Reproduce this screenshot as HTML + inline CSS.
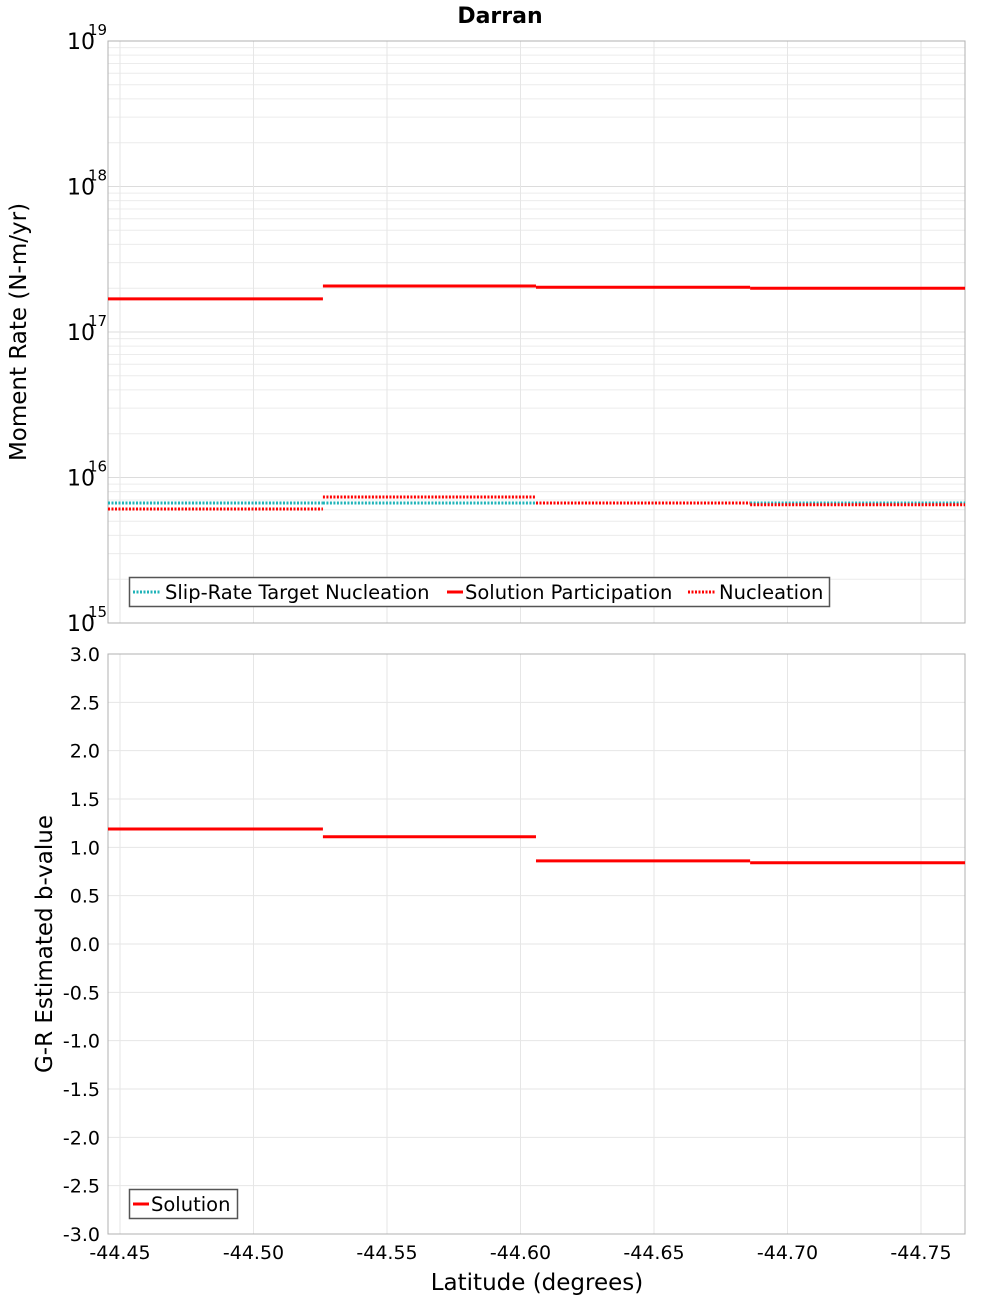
<!DOCTYPE html>
<html><head><meta charset="utf-8"><style>
body{margin:0;background:#fff;}
svg{display:block;font-family:"DejaVu Sans","Liberation Sans",sans-serif;}
</style></head><body>
<svg id="c" width="1000" height="1300" xmlns="http://www.w3.org/2000/svg"></svg>
<script>
const segBounds = [-44.4455, -44.5260, -44.6058, -44.6860, -44.7665];
const participation = [1.69e17, 2.07e17, 2.03e17, 2.0e17];
const targetNucleation = [6.68e15, 6.68e15, 6.68e15, 6.68e15];
const nucleation = [6.08e15, 7.35e15, 6.68e15, 6.5e15];
const bValues = [1.19, 1.11, 0.86, 0.84];
const xTicks = [-44.45, -44.50, -44.55, -44.60, -44.65, -44.70, -44.75];
const bTicks = [3.0,2.5,2.0,1.5,1.0,0.5,0.0,-0.5,-1.0,-1.5,-2.0,-2.5,-3.0];
const logTicks = [15,16,17,18,19];

const svg = document.getElementById('c');
const NS = 'http://www.w3.org/2000/svg';
const L=108, R=965, T1=41, B1=623, T2=654, B2=1234;
function X(v){ return 120 + (-44.45 - v) * 2670; }
function YL(v){ return T1 + (19 - Math.log10(v)) * (B1-T1)/4; }
function YB(v){ return T2 + (3 - v) * (B2-T2)/6; }
function mk(tag, attrs, parent){ const e=document.createElementNS(NS,tag); for(const k in attrs) e.setAttribute(k,attrs[k]); (parent||svg).appendChild(e); return e; }

const p1 = mk('rect',{x:L,y:T1,width:R-L,height:B1-T1,fill:'#fff',stroke:'#b0b0b0'});


const p2 = mk('rect',{x:L,y:T2,width:R-L,height:B2-T2,fill:'#fff',stroke:'#b0b0b0'});



for(let d=15; d<19; d++){ for(let m=1;m<10;m++){ const y=YL(m*Math.pow(10,d)); const g=mk('line',{x1:L,x2:R,y1:y,y2:y,stroke:m==1?'#dcdcdc':'#ececec','stroke-width':1});   } }
bTicks.forEach(v=>{ const y=YB(v); const g=mk('line',{x1:L,x2:R,y1:y,y2:y,stroke:'#e6e6e6'});   });
xTicks.forEach(v=>{ const x=X(v); [[T1,B1],[T2,B2]].forEach(([a,b])=>{ const g=mk('line',{x1:x,x2:x,y1:a,y2:b,stroke:'#e6e6e6'});   }); });

mk('rect',{x:L,y:T1,width:R-L,height:B1-T1,fill:'none',stroke:'#b0b0b0'});
mk('rect',{x:L,y:T2,width:R-L,height:B2-T2,fill:'none',stroke:'#b0b0b0'});

logTicks.forEach(d=>{
  const t=mk('text',{x:95,y:YL(Math.pow(10,d))+8,'text-anchor':'end','font-size':22,fill:'#000'});
  t.textContent='10';
  
  
  const s=mk('text',{x:88,y:YL(Math.pow(10,d))-6,'font-size':15,fill:'#000'});
  s.textContent=String(d);
  
  
});
bTicks.forEach(v=>{
  const t=mk('text',{x:100,y:YB(v)+7,'text-anchor':'end','font-size':19,fill:'#000'});
  t.textContent=v.toFixed(1);
  
  
});
xTicks.forEach(v=>{
  const t=mk('text',{x:X(v),y:1259,'text-anchor':'middle','font-size':19,fill:'#000'});
  t.textContent=v.toFixed(2);
  
  
});

function steps(vals, yf, color, dash, name){
  vals.forEach((v,i)=>{
    const y=yf(v);
    const a={x1:X(segBounds[i]),x2:X(segBounds[i+1]),y1:y,y2:y,stroke:color,'stroke-width':3};
    if(dash) a['stroke-dasharray']='2,1.5';
    const l=mk('line',a);
    
    
  });
}
steps(targetNucleation, YL, '#1fb3b8', true, 'target-nucleation-segment');
steps(participation, YL, '#ff0000', false, 'participation-segment');
steps(nucleation, YL, '#ff0000', true, 'nucleation-segment');
steps(bValues, YB, '#ff0000', false, 'b-value-segment');

const title=mk('text',{x:500,y:23,'text-anchor':'middle','font-size':22,'font-weight':'bold'});
title.textContent='Darran';


const yt1=mk('text',{x:0,y:0,'text-anchor':'middle','font-size':23,transform:'translate(26,332) rotate(-90)'});
yt1.textContent='Moment Rate (N-m/yr)';


const yt2=mk('text',{x:0,y:0,'text-anchor':'middle','font-size':23,transform:'translate(52,944) rotate(-90)'});
yt2.textContent='G-R Estimated b-value';


const xt=mk('text',{x:537,y:1290,'text-anchor':'middle','font-size':23});
xt.textContent='Latitude (degrees)';



const lg1=mk('g',{});


mk('rect',{x:129.5,y:577.5,width:700,height:29,fill:'#fff',stroke:'#555','stroke-width':1.5},lg1);
[[133,'#1fb3b8',true,'Slip-Rate Target Nucleation',165],[447,'#ff0000',false,'Solution Participation',465],[688,'#ff0000',true,'Nucleation',719]].forEach(([x,c,d,txt,tx])=>{
  const a={x1:x,x2:x+28,y1:592,y2:592,stroke:c,'stroke-width':3}; if(d)a['stroke-dasharray']='2,1.5';
  if(!d){a.x2=x+16;}
  mk('line',a,lg1);
  const t=mk('text',{x:tx,y:599,'font-size':19.5},lg1);
  t.textContent=txt;
  
  
});
const lg2=mk('g',{});


mk('rect',{x:129.5,y:1189.5,width:108,height:29,fill:'#fff',stroke:'#555','stroke-width':1.5},lg2);
mk('line',{x1:133,x2:149,y1:1204,y2:1204,stroke:'#ff0000','stroke-width':3},lg2);
const st=mk('text',{x:151,y:1211,'font-size':19.5},lg2);
st.textContent='Solution';


</script>
</body></html>
